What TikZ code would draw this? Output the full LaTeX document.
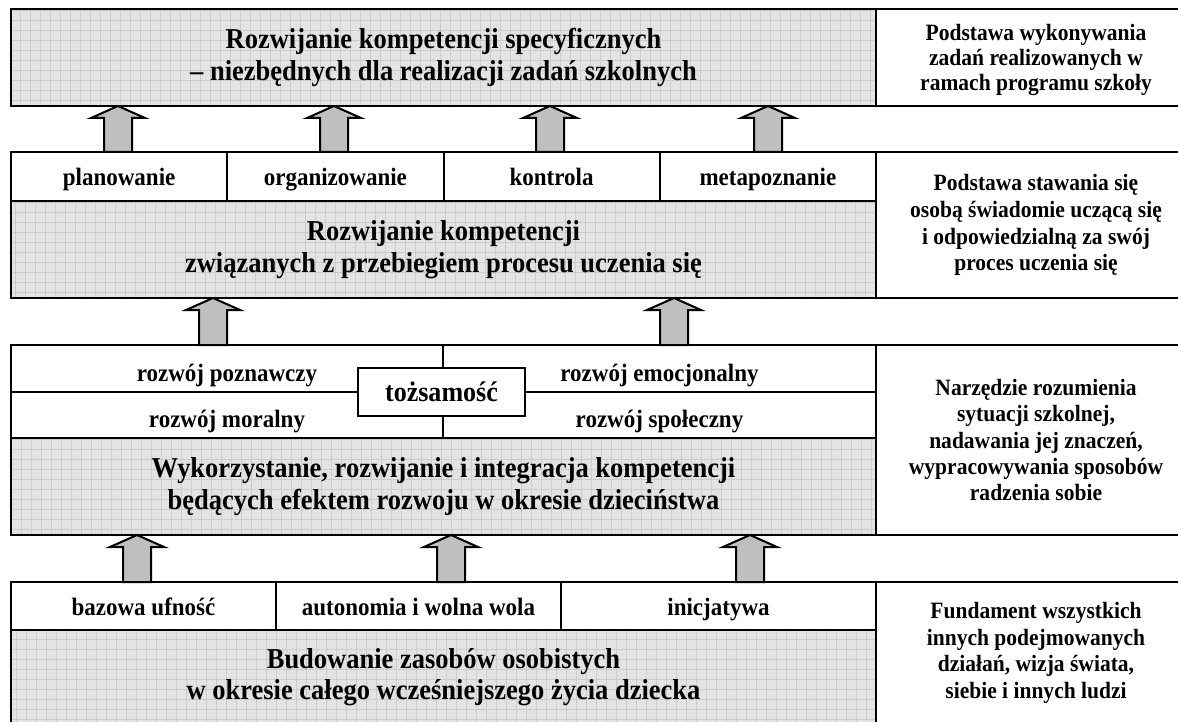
\documentclass[tikz,border=0pt]{standalone}
\usepackage{fontspec}
\setmainfont[FakeStretch=0.92]{Liberation Serif}
\usetikzlibrary{positioning, calc}

% block arrow pointing up: x, lower node, upper node
\newcommand{\liftarrow}[3]{%
    \path (#1,0 |- #2.north) coordinate (foot) (#1,0 |- #3.south) coordinate (tip);
    \draw[blockarrow] ($(foot)+(-14,0)$) -- ($(tip)+(-14,12)$) -- ($(tip)+(-27,12)$) -- (tip)
        -- ($(tip)+(27,12)$) -- ($(tip)+(14,12)$) -- ($(foot)+(14,0)$) -- cycle;
}

\begin{document}
\begin{tikzpicture}[
    x=1pt, y=-1pt,
    panel/.style={
        rectangle, draw=black, line width=2pt,
        inner sep=0pt, outer sep=0pt,
        anchor=north west, align=center
    },
    gridbox/.style={
        panel, fill=gray!22,
        font=\fontsize{28.8}{31.5}\selectfont\bfseries,
        path picture={\draw[gray!40, line width=0.6pt, step=10pt]
            (path picture bounding box.south west) grid (path picture bounding box.north east);}
    },
    cell/.style={panel, fill=white, text height=22pt, text depth=3pt,
        font=\fontsize{25}{28}\selectfont\bfseries},
    rowcell/.style={cell, text height=27pt, text depth=2pt},
    notebox/.style={panel, fill=white, minimum width=320,
        font=\fontsize{23.4}{26.8}\selectfont\bfseries},
    blockarrow/.style={draw=black, line width=2pt, fill=gray!50, line join=miter}
]
\useasboundingbox (0,0) rectangle (1178,722);

% ============ Level 1: school tasks ============
\node[gridbox, minimum width=865, minimum height=97] (specific) at (11,9)
    {Rozwijanie kompetencji specyficznych\\ – niezbędnych dla realizacji zadań szkolnych};
\node[notebox, minimum height=97, text depth=0pt,
    font=\fontsize{23.4}{25}\selectfont\bfseries] (noteA) at (876,9)
    {Podstawa wykonywania\\ zadań realizowanych w\\ ramach programu szkoły};

% ============ Level 2: learning process ============
\node[cell, minimum width=216.25, minimum height=49] (plan) at (11,152) {planowanie};
\node[cell, minimum width=216.25, minimum height=49, right=0pt of plan] (organize) {organizowanie};
\node[cell, minimum width=216.25, minimum height=49, right=0pt of organize] (control) {kontrola};
\node[cell, minimum width=216.25, minimum height=49, right=0pt of control] (meta) {metapoznanie};
\node[gridbox, minimum width=865, minimum height=97] (learning) at (11,201)
    {Rozwijanie kompetencji\\ związanych z przebiegiem procesu uczenia się};
\node[notebox, minimum height=146] (noteB) at (876,152)
    {Podstawa stawania się\\ osobą świadomie uczącą się\\ i odpowiedzialną za swój\\ proces uczenia się};

% ============ Level 3: childhood development ============
\node[rowcell, minimum width=432, minimum height=47] (cognitive) at (11,345) {rozwój poznawczy};
\node[rowcell, minimum width=433, minimum height=47, right=0pt of cognitive] (emotional) {rozwój emocjonalny};
\node[rowcell, minimum width=432, minimum height=46] (moral) at (11,392) {rozwój moralny};
\node[rowcell, minimum width=433, minimum height=46, right=0pt of moral] (social) {rozwój społeczny};
\node[panel, fill=white, minimum width=167, minimum height=48,
    font=\fontsize{28.3}{31}\selectfont\bfseries] (identity) at (358,368) {tożsamość};
\node[gridbox, minimum width=865, minimum height=97] (childhood) at (11,438)
    {Wykorzystanie, rozwijanie i integracja kompetencji\\ będących efektem rozwoju w okresie dzieciństwa};
\node[notebox, minimum height=190, font=\fontsize{23.4}{26.3}\selectfont\bfseries] (noteC) at (876,345)
    {Narzędzie rozumienia\\ sytuacji szkolnej,\\ nadawania jej znaczeń,\\ wypracowywania sposobów\\ radzenia sobie};

% ============ Level 4: personal resources ============
\node[cell, minimum width=265, minimum height=48] (trust) at (11,582) {bazowa ufność};
\node[cell, minimum width=285, minimum height=48, right=0pt of trust] (autonomy) {autonomia i wolna wola};
\node[cell, minimum width=315, minimum height=48, right=0pt of autonomy] (initiative) {inicjatywa};
\node[gridbox, minimum width=865, minimum height=94] (resources) at (11,630)
    {Budowanie zasobów osobistych\\ w okresie całego wcześniejszego życia dziecka};
\node[notebox, minimum height=142] (noteD) at (876,582)
    {Fundament wszystkich\\ innych podejmowanych\\ działań, wizja świata,\\ siebie i innych ludzi};

% ============ Arrows ============
\liftarrow{118}{plan}{specific}
\liftarrow{334}{organize}{specific}
\liftarrow{550}{control}{specific}
\liftarrow{768}{meta}{specific}

\liftarrow{213}{cognitive}{learning}
\liftarrow{674}{emotional}{learning}

\liftarrow{137}{trust}{childhood}
\liftarrow{451}{autonomy}{childhood}
\liftarrow{750}{initiative}{childhood}

\end{tikzpicture}
\end{document}
